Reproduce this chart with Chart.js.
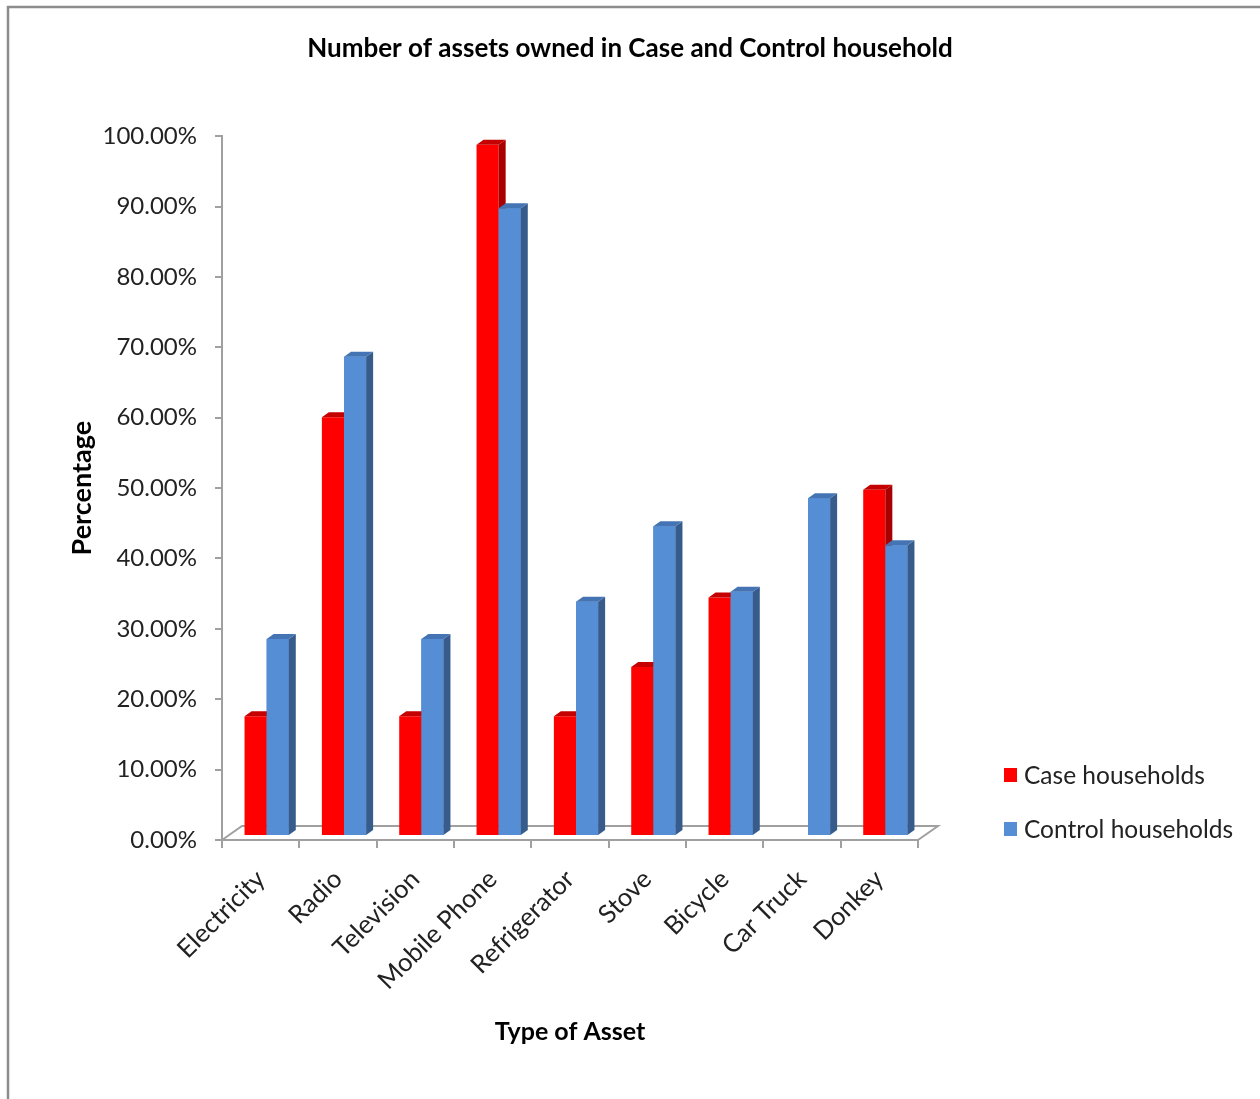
<!DOCTYPE html>
<html>
<head>
<meta charset="utf-8">
<title>Assets owned</title>
<script src="https://cdn.jsdelivr.net/npm/chart.js@4.4.1/dist/chart.umd.min.js"></script>
<style>
  html, body { margin: 0; padding: 0; background: #fff; }
  #wrap { width: 1260px; height: 1099px; }
</style>
</head>
<body>
<div id="wrap"><canvas id="assetChart" width="1260" height="1099"></canvas></div>
<script>
// Asset ownership, share of households
const assetTypes = ['Electricity', 'Radio', 'Television', 'Mobile Phone', 'Refrigerator', 'Stove', 'Bicycle', 'Car Truck', 'Donkey'];
const caseShare = [0.17, 0.595, 0.17, 0.982, 0.17, 0.24, 0.339, 0, 0.492];
const controlShare = [0.28, 0.681, 0.28, 0.892, 0.333, 0.44, 0.347, 0.48, 0.413];
const yTicks = [0, 0.1, 0.2, 0.3, 0.4, 0.5, 0.6, 0.7, 0.8, 0.9, 1];

const FONT = 'Lato';
const AXIS_GRAY = '#A0A0A0';

// fake 3d: bar depth and floor depth in px
const DEPTH_X = 7, DEPTH_Y = 5;
const FLOOR_X = 20, FLOOR_Y = 14;
const SHIFT_X = 6, SHIFT_Y = -4;

const drawFloor = (chart) => {
  const { ctx, chartArea: { left, right, bottom } } = chart;
  ctx.save();
  ctx.strokeStyle = AXIS_GRAY;
  ctx.lineWidth = 2;
  ctx.beginPath();
  ctx.moveTo(left, bottom);
  ctx.lineTo(left + FLOOR_X, bottom - FLOOR_Y);
  ctx.lineTo(right + FLOOR_X, bottom - FLOOR_Y);
  ctx.lineTo(right, bottom);
  ctx.stroke();
  ctx.restore();
};

const drawFaces = (ctx, bar, ds, withFront) => {
  const { x, y, base, width } = bar.getProps(['x', 'y', 'base', 'width'], true);
  const l = x - width / 2, r = x + width / 2;
  if (withFront) {
    ctx.fillStyle = ds.backgroundColor;
    ctx.fillRect(l, y, width, base - y);
  }
  // right side
  ctx.fillStyle = ds.sideColor;
  ctx.beginPath();
  ctx.moveTo(r, base);
  ctx.lineTo(r + DEPTH_X, base - DEPTH_Y);
  ctx.lineTo(r + DEPTH_X, y - DEPTH_Y);
  ctx.lineTo(r, y);
  ctx.closePath();
  ctx.fill();
  // top
  ctx.fillStyle = ds.topColor;
  ctx.beginPath();
  ctx.moveTo(l, y);
  ctx.lineTo(l + DEPTH_X, y - DEPTH_Y);
  ctx.lineTo(r + DEPTH_X, y - DEPTH_Y);
  ctx.lineTo(r, y);
  ctx.closePath();
  ctx.fill();
};

// the red column sits behind-left of the blue one, so blue is painted again last
const bars3d = {
  id: 'bars3d',
  beforeDatasetsDraw(chart) {
    drawFloor(chart);
    chart.ctx.save();
    chart.ctx.translate(SHIFT_X, SHIFT_Y);
  },
  afterDatasetsDraw(chart) {
    const ctx = chart.ctx;
    chart.data.datasets.forEach((ds, di) => {
      chart.getDatasetMeta(di).data.forEach((bar, i) => {
        if (!ds.data[i]) return;
        drawFaces(ctx, bar, ds, di > 0);
      });
    });
    ctx.restore();
  }
};

// page frame and white background
const frame = {
  id: 'frame',
  beforeDraw(chart) {
    const { ctx, width, height } = chart;
    ctx.save();
    ctx.fillStyle = '#fff';
    ctx.fillRect(0, 0, width, height);
    ctx.strokeStyle = '#8C8C8C';
    ctx.lineWidth = 2.5;
    ctx.beginPath();
    ctx.moveTo(8, height);
    ctx.lineTo(8, 7);
    ctx.lineTo(width, 7);
    ctx.stroke();
    ctx.restore();
  }
};

const sideLegend = {
  id: 'sideLegend',
  afterDraw(chart) {
    const ctx = chart.ctx;
    ctx.save();
    ctx.font = '24.5px ' + FONT;
    ctx.textBaseline = 'middle';
    chart.data.datasets.forEach((ds, i) => {
      const y = 775 + i * 54;
      ctx.fillStyle = ds.backgroundColor;
      ctx.fillRect(1004, y - 7, 13, 14);
      ctx.fillStyle = '#222';
      ctx.fillText(ds.label, 1024, y + 1);
    });
    ctx.restore();
  }
};

const ctx = document.getElementById('assetChart').getContext('2d');
new Chart(ctx, {
  type: 'bar',
  data: {
    labels: assetTypes,
    datasets: [
      {
        label: 'Case households',
        data: caseShare,
        backgroundColor: '#FF0000',
        sideColor: '#A80000',
        topColor: '#C40000',
        clip: false
      },
      {
        label: 'Control households',
        data: controlShare,
        backgroundColor: '#558ED5',
        sideColor: '#375C8C',
        topColor: '#4474B4',
        clip: false
      }
    ]
  },
  options: {
    responsive: false,
    animation: false,
    layout: { padding: 0 },
    datasets: {
      bar: { barPercentage: 1, categoryPercentage: 0.572 }
    },
    plugins: {
      legend: { display: false },
      tooltip: { enabled: false },
      title: {
        display: true,
        text: 'Number of assets owned in Case and Control household',
        color: '#000',
        font: { family: FONT, size: 26, weight: 'bold' },
        padding: { top: 33, bottom: 72 }
      }
    },
    scales: {
      x: {
        grid: { offset: true, drawOnChartArea: false, color: AXIS_GRAY, lineWidth: 2, tickLength: 8 },
        border: { color: AXIS_GRAY, width: 2 },
        ticks: {
          color: '#222',
          font: { family: FONT, size: 25.5 },
          minRotation: 45,
          maxRotation: 45,
          padding: 16
        },
        title: {
          display: true,
          text: 'Type of Asset',
          color: '#000',
          font: { family: FONT, size: 25, weight: 'bold' },
          padding: { top: 4, bottom: 52 }
        },
        afterFit(scale) { scale.height = 259; }
      },
      y: {
        min: 0,
        max: 1,
        afterBuildTicks(scale) { scale.ticks = yTicks.map(v => ({ value: v })); },
        grid: { drawOnChartArea: false, color: AXIS_GRAY, lineWidth: 2, tickLength: 7 },
        border: { color: AXIS_GRAY, width: 2 },
        ticks: {
          color: '#222',
          font: { family: FONT, size: 24 },
          padding: 18,
          callback: v => (v * 100).toFixed(2) + '%'
        },
        title: {
          display: true,
          text: 'Percentage',
          color: '#000',
          font: { family: FONT, size: 27, weight: 'bold' },
          padding: { top: 66, bottom: 0 }
        },
        afterFit(scale) { scale.width = 222; }
      },
      // empty right-hand strip that holds the legend
      legendSpace: {
        type: 'linear',
        position: 'right',
        display: true,
        grid: { display: false },
        border: { display: false },
        ticks: { display: false },
        afterFit(scale) { scale.width = 342; }
      }
    }
  },
  plugins: [frame, bars3d, sideLegend]
});
</script>
</body>
</html>
